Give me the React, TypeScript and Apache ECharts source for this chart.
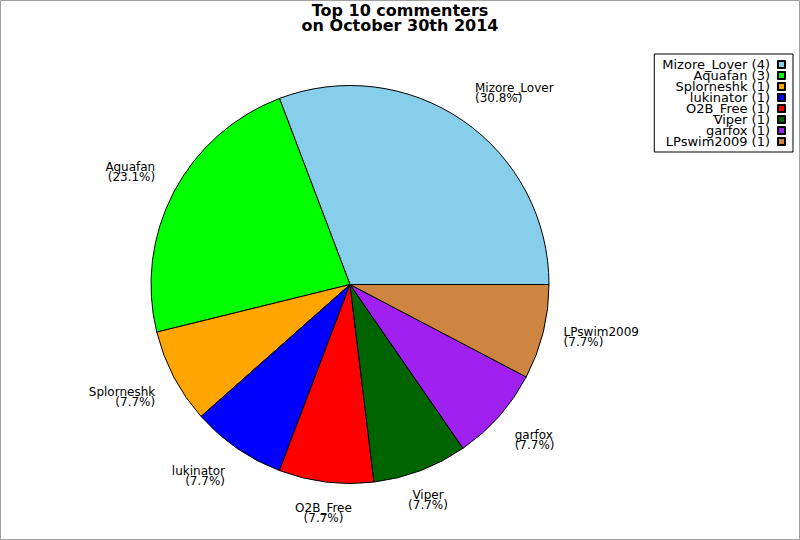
import { useEffect, useRef } from "react";
import * as echarts from "echarts";

// commenters and their comment counts
const names = [
  "Mizore_Lover",
  "Aquafan",
  "Splorneshk",
  "lukinator",
  "O2B_Free",
  "Viper",
  "garfox",
  "LPswim2009",
];
const counts = [4, 3, 1, 1, 1, 1, 1, 1];
const colors = [
  "#87ceeb",
  "#00ff00",
  "#ffa500",
  "#0000ff",
  "#ff0000",
  "#006400",
  "#a020f0",
  "#cd853f",
];

const FONT = "DejaVu Sans";
const CX = 350;
const CY = 284.5;
const R = 199;
const LABEL_R = 220;

const total = counts.reduce((a, b) => a + b, 0);

// mid angle (degrees, counter-clockwise from 3 o'clock) of each slice
const midAngle = (i: number) => {
  let before = 0;
  for (let k = 0; k < i; k++) before += counts[k];
  return ((before + counts[i] / 2) / total) * 360;
};

const H_ALIGN = ["left", "left", "center", "right", "right", "right", "center", "left"];
const V_ALIGN = ["middle", "bottom", "bottom", "bottom", "middle", "top", "top", "top"];

const App = () => {
  const chartRef = useRef<HTMLDivElement>(null);

  useEffect(() => {
    if (!chartRef.current) return;
    const chart = echarts.init(chartRef.current, null, { renderer: "svg" });

    chart.setOption({
      animation: false,
      title: {
        text: "Top 10 commenters\non October 30th 2014",
        left: "center",
        top: 3,
        padding: 0,
        textStyle: {
          fontFamily: FONT,
          fontSize: 16,
          fontWeight: "bold",
          lineHeight: 15,
          color: "#000",
        },
      },
      legend: {
        orient: "vertical",
        right: 7,
        top: 54,
        padding: [4, 7, 4, 8],
        borderColor: "#000",
        borderWidth: 1,
        align: "right",
        icon: "rect",
        itemWidth: 7,
        itemHeight: 7,
        itemGap: -2,
        selectedMode: false,
        formatter: (name: string) => `${name} (${counts[names.indexOf(name)]})`,
        textStyle: {
          fontFamily: FONT,
          fontSize: 13,
          lineHeight: 11,
          color: "#000",
          padding: [0, 3, 0, 0],
        },
      },
      graphic: [
        {
          type: "rect",
          shape: { x: 0.5, y: 0.5, width: 799, height: 539 },
          style: { fill: "none", stroke: "#a0a0a0", lineWidth: 1 },
          silent: true,
        },
      ],
      series: [
        {
          type: "pie",
          center: [CX, CY],
          radius: R,
          startAngle: 0,
          clockwise: false,
          avoidLabelOverlap: false,
          emphasis: { disabled: true },
          itemStyle: { borderColor: "#000", borderWidth: 1 },
          label: {
            show: true,
            position: "outside",
            fontFamily: FONT,
            fontSize: 12,
            lineHeight: 10,
            color: "#000",
            formatter: (p: any) =>
              `${p.name}\n(${((counts[p.dataIndex] / total) * 100).toFixed(1)}%)`,
          },
          labelLine: { show: false },
          labelLayout: (p: any) => {
            const a = midAngle(p.dataIndex);
            const rad = (a * Math.PI) / 180;
            const sector = Math.round(a / 45) % 8;
            return {
              x: CX + LABEL_R * Math.cos(rad),
              y: CY - LABEL_R * Math.sin(rad),
              align: H_ALIGN[sector],
              verticalAlign: V_ALIGN[sector],
            };
          },
          data: names.map((name, i) => ({
            name,
            value: counts[i],
            itemStyle: { color: colors[i] },
          })),
        },
      ],
    });

    return () => chart.dispose();
  }, []);

  return (
    <div
      ref={chartRef}
      style={{ position: "absolute", left: 0, top: 0, width: 800, height: 540 }}
    />
  );
};

export default App;
